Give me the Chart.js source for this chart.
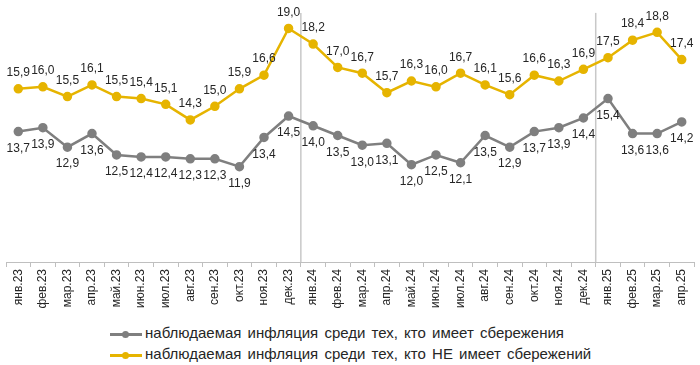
<!DOCTYPE html>
<html>
<head>
  <meta charset="utf-8">
  <title>Инфляция</title>
  <script src="https://cdn.jsdelivr.net/npm/chart.js@4.4.1/dist/chart.umd.min.js"></script>
  <style>
    body { margin: 0; background: #fff; font-family: "Liberation Sans", Arial, sans-serif; }
    #wrap { position: relative; width: 700px; height: 365px; }
    #legend { position: absolute; left: 110px; top: 322px; font-size: 15px; color: #262626; word-spacing: 2px; }
    .row { height: 21px; line-height: 21px; white-space: nowrap; }
    .mark { display: inline-block; position: relative; width: 32px; height: 3px; margin-right: 3px; vertical-align: middle; }
    .mark i { position: absolute; left: 12px; top: -2px; width: 7px; height: 7px; border-radius: 50%; }
  </style>
</head>
<body>
<div id="wrap">
  <canvas id="myChart" width="700" height="315"></canvas>
  <div id="legend"></div>
</div>
<script type="text/javascript">
  var months = ["янв.23","фев.23","мар.23","апр.23","май.23","июн.23","июл.23","авг.23","сен.23","окт.23","ноя.23","дек.23",
                "янв.24","фев.24","мар.24","апр.24","май.24","июн.24","июл.24","авг.24","сен.24","окт.24","ноя.24","дек.24",
                "янв.25","фев.25","мар.25","апр.25"];
  var withSavings = [13.7,13.9,12.9,13.6,12.5,12.4,12.4,12.3,12.3,11.9,13.4,14.5,
                     14.0,13.5,13.0,13.1,12.0,12.5,12.1,13.5,12.9,13.7,13.9,14.4,
                     15.4,13.6,13.6,14.2];
  var noSavings = [15.9,16.0,15.5,16.1,15.5,15.4,15.1,14.3,15.0,15.9,16.6,19.0,
                   18.2,17.0,16.7,15.7,16.3,16.0,16.7,16.1,15.6,16.6,16.3,16.9,
                   17.5,18.4,18.8,17.4];
  var seriesNames = ["наблюдаемая инфляция среди тех, кто имеет сбережения",
                     "наблюдаемая инфляция среди тех, кто НЕ имеет сбережений"];
  var GRAY = "#7f7f7f", GOLD = "#e6b400";

  // подписи значений: серые снизу, жёлтые сверху
  var valueLabels = {
    id: "valueLabels",
    afterDatasetsDraw: function(chart) {
      var ctx = chart.ctx;
      ctx.save();
      ctx.font = "12px 'Liberation Sans', Arial, sans-serif";
      ctx.fillStyle = "#262626";
      ctx.textAlign = "center";
      ctx.textBaseline = "middle";
      chart.data.datasets.forEach(function(ds, i) {
        var meta = chart.getDatasetMeta(i);
        meta.data.forEach(function(pt, j) {
          var txt = ds.data[j].toFixed(1).replace(".", ",");
          var dy = i === 0 ? 17 : -16;
          ctx.fillText(txt, pt.x, pt.y + dy);
        });
      });
      ctx.restore();
    }
  };

  // вертикальные разделители лет
  var yearLines = {
    id: "yearLines",
    beforeDatasetsDraw: function(chart) {
      var ctx = chart.ctx, x = chart.scales.x, y = chart.scales.y;
      ctx.save();
      ctx.strokeStyle = "#c8c8c8";
      ctx.lineWidth = 1.5;
      [12, 24].forEach(function(idx) {
        var px = (x.getPixelForValue(idx - 1) + x.getPixelForValue(idx)) / 2;
        ctx.beginPath();
        ctx.moveTo(px, y.getPixelForValue(19.8));
        ctx.lineTo(px, y.bottom);
        ctx.stroke();
      });
      ctx.restore();
    }
  };

  var ctx = document.getElementById("myChart");
  var myChart = new Chart(ctx, {
    type: "line",
    data: {
      labels: months,
      datasets: [
        { label: seriesNames[0], data: withSavings, borderColor: GRAY, backgroundColor: GRAY,
          borderWidth: 2.5, pointRadius: 3.5, pointHoverRadius: 3.5, tension: 0 },
        { label: seriesNames[1], data: noSavings, borderColor: GOLD, backgroundColor: GOLD,
          borderWidth: 2.5, pointRadius: 3.5, pointHoverRadius: 3.5, tension: 0 }
      ]
    },
    options: {
      responsive: false,
      animation: false,
      layout: { padding: { left: 3, right: 3, top: 9, bottom: 0 } },
      plugins: { legend: { display: false }, tooltip: { enabled: false } },
      scales: {
        x: {
          offset: true,
          grid: { offset: true, drawOnChartArea: false, color: "#bfbfbf", tickLength: 5 },
          border: { color: "#bfbfbf" },
          ticks: { minRotation: 90, maxRotation: 90, padding: 2, color: "#262626",
                   font: { family: "'Liberation Sans', Arial", size: 12 } },
          afterFit: function(scale) { scale.height = 53; }
        },
        y: { display: false, min: 7, max: 20 }
      }
    },
    plugins: [yearLines, valueLabels]
  });

  var lg = document.getElementById("legend");
  [GRAY, GOLD].forEach(function(c, i) {
    var row = document.createElement("div");
    row.className = "row";
    row.innerHTML = '<span class="mark" style="background:' + c + '"><i style="background:' + c + '"></i></span>' +
                    seriesNames[i];
    lg.appendChild(row);
  });
</script>
</body>
</html>
